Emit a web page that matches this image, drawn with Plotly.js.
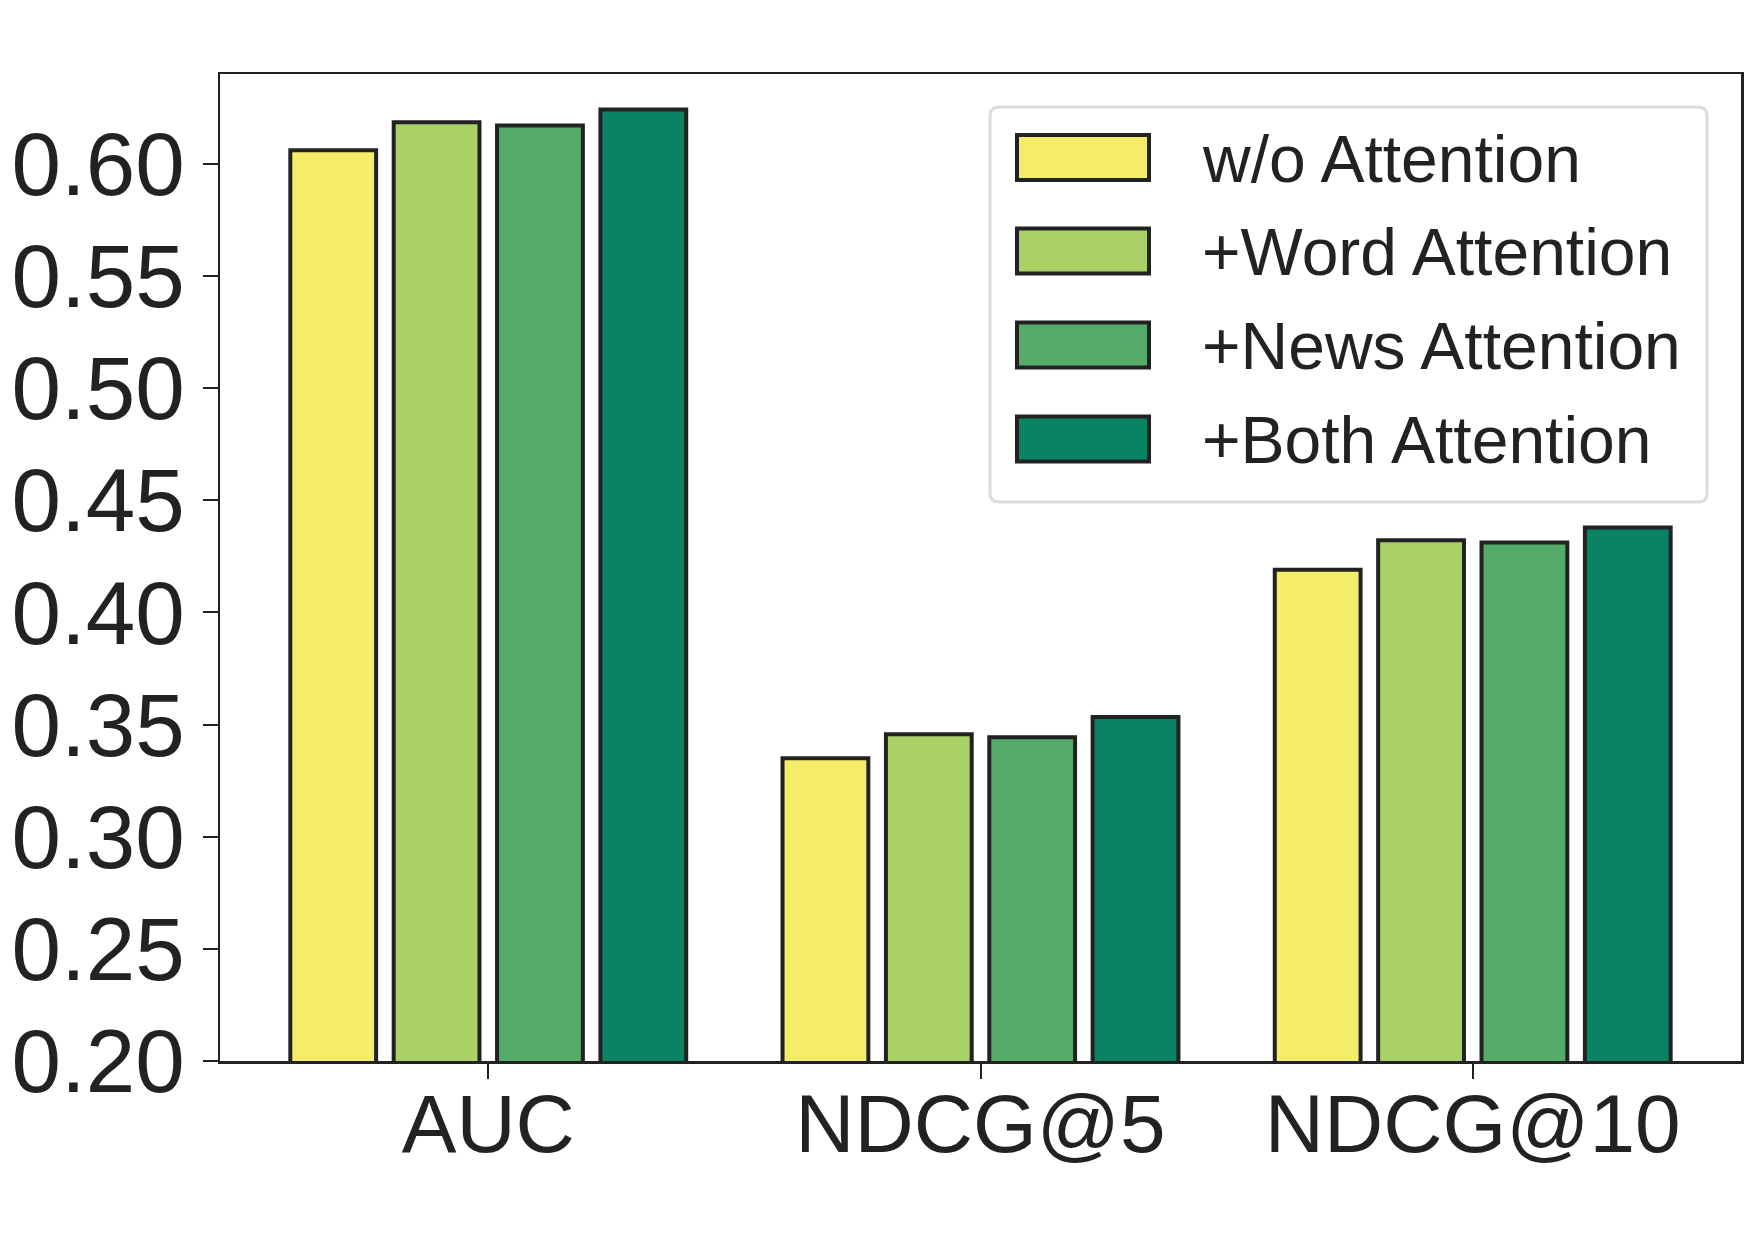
<!DOCTYPE html>
<html>
<head>
<meta charset="utf-8">
<script src="https://cdn.plot.ly/plotly-3.0.1.min.js"></script>
<style>html,body{margin:0;padding:0;background:#fff;}#chart{width:1755px;height:1241px;}</style>
</head>
<body>
<div id="chart"></div>
<script>
// ---- data ----
const categories = ["AUC", "NDCG@5", "NDCG@10"];
const seriesNames = ["w/o Attention", "+Word Attention", "+News Attention", "+Both Attention"];
const woAttention   = [0.606, 0.335, 0.419];
const wordAttention = [0.6185, 0.3457, 0.4322];
const newsAttention = [0.617, 0.3443, 0.4311];
const bothAttention = [0.6242, 0.3533, 0.4378];
const yTickValues = [0.20, 0.25, 0.30, 0.35, 0.40, 0.45, 0.50, 0.55, 0.60];

// ---- styles ----
const colors = ["#F5EC6A", "#AAD166", "#55AC68", "#0A8264"];
const edge = "#222222";
const W = 1755, H = 1241;
const M = {l: 220, r: 14, t: 74, b: 180};
const pw = W - M.l - M.r, ph = H - M.t - M.b;
const px = x => (x - M.l) / pw;
const py = y => (H - M.b - y) / ph;

const allSeries = [woAttention, wordAttention, newsAttention, bothAttention];
const traces = allSeries.map((vals, i) => ({
  type: "bar",
  name: seriesNames[i],
  x: categories,
  y: vals,
  marker: {color: colors[i], line: {color: edge, width: 4}},
  showlegend: false,
  hoverinfo: "x+y+name"
}));

// custom legend (large swatches as in the reference)
const shapes = [];
const annotations = [];
const lb = {x0: 990, x1: 1707, y0: 107, y1: 502, r: 9};
const rx = lb.r / pw, ry = lb.r / ph;
const X0 = px(lb.x0), X1 = px(lb.x1), Y0 = py(lb.y1), Y1 = py(lb.y0);
shapes.push({
  type: "path", xref: "paper", yref: "paper", layer: "above",
  path: `M${X0+rx},${Y0} L${X1-rx},${Y0} Q${X1},${Y0} ${X1},${Y0+ry} L${X1},${Y1-ry} Q${X1},${Y1} ${X1-rx},${Y1} L${X0+rx},${Y1} Q${X0},${Y1} ${X0},${Y1-ry} L${X0},${Y0+ry} Q${X0},${Y0} ${X0+rx},${Y0} Z`,
  fillcolor: "rgba(255,255,255,0.9)", line: {color: "#dcdcdc", width: 3}
});
const rowCenters = [157.5, 251, 345, 439];
seriesNames.forEach((nm, i) => {
  const c = rowCenters[i];
  shapes.push({
    type: "rect", xref: "paper", yref: "paper", layer: "above",
    x0: px(1017), x1: px(1149), y0: py(c + 22.5), y1: py(c - 22.5),
    fillcolor: colors[i], line: {color: edge, width: 4}
  });
  annotations.push({
    xref: "paper", yref: "paper", x: px(1200), y: py(c + 1),
    xanchor: "left", yanchor: "middle", showarrow: false,
    text: nm, font: {family: "Liberation Sans, Arial, sans-serif", size: 66, color: edge}
  });
});

const layout = {
  width: W, height: H,
  margin: M,
  paper_bgcolor: "#ffffff", plot_bgcolor: "#ffffff",
  barmode: "group", bargap: 0.16, bargroupgap: 0.17,
  font: {family: "Liberation Sans, Arial, sans-serif", color: edge},
  xaxis: {
    type: "category", categoryarray: categories, categoryorder: "array",
    range: [-0.545, 2.545],
    showline: true, linecolor: edge, linewidth: 2.5, mirror: true,
    ticks: "outside", ticklen: 15, tickwidth: 2, tickcolor: edge,
    showgrid: false, zeroline: false,
    tickfont: {size: 82, color: edge}, ticklabelstandoff: -25
  },
  yaxis: {
    range: [0.2, 0.64],
    tickvals: yTickValues, tickformat: ".2f",
    showline: true, linecolor: edge, linewidth: 2.5, mirror: true,
    ticks: "outside", ticklen: 15, tickwidth: 2, tickcolor: edge,
    showgrid: false, zeroline: false,
    tickfont: {size: 89, color: edge}, ticklabelstandoff: 0
  },
  shapes: shapes,
  annotations: annotations,
  showlegend: false
};

Plotly.newPlot("chart", traces, layout, {displayModeBar: false, staticPlot: true});
</script>
</body>
</html>
